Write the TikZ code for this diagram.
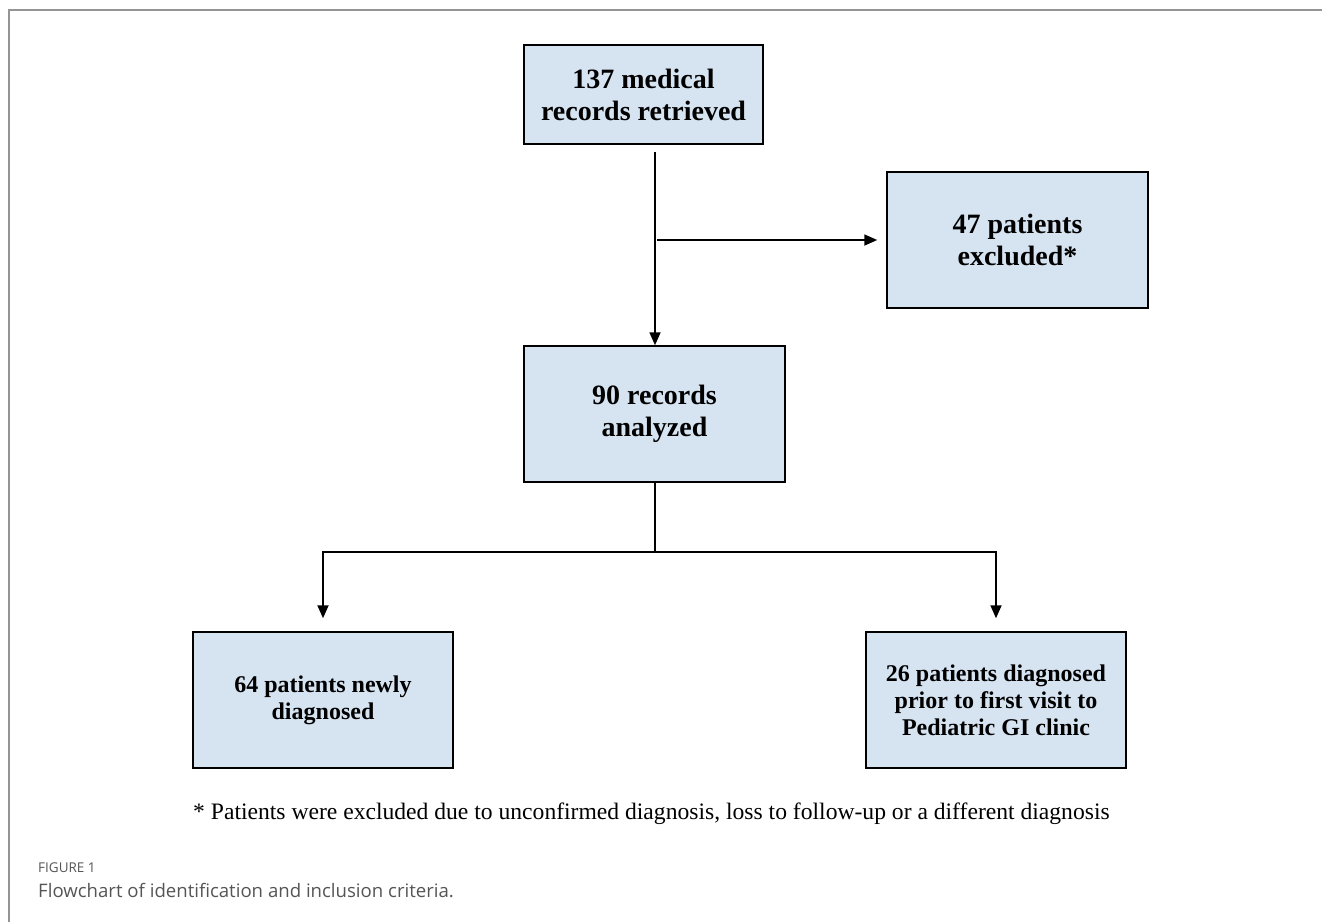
\documentclass[tikz,border=0pt]{standalone}
\usepackage{fontspec}
\setmainfont{Liberation Serif}
\newfontfamily\capfont{Open Sans}
\usetikzlibrary{arrows.meta}
\definecolor{boxblue}{HTML}{D6E3F1}
\definecolor{framegray}{HTML}{949494}
\definecolor{capgray}{HTML}{555555}
\begin{document}
\begin{tikzpicture}[x=1pt,y=-1pt,
  box/.style={draw=black, fill=boxblue, line width=1.5pt, inner sep=0pt, align=center,
    font=\bfseries\fontsize{28}{32}\selectfont},
  smallbox/.style={box, font=\bfseries\fontsize{24}{27}\selectfont},
  arr/.style={line width=1.8pt, -{Triangle[length=13pt,width=11pt]}},
  plain/.style={line width=1.8pt}]
\useasboundingbox (0,0) rectangle (1322,922);
\draw[framegray, line width=2pt] (9,922) -- (9,10) -- (1322,10);

\node[box, minimum width=239pt, minimum height=99pt] (A) at (643.5,94.5) {137 medical\\records retrieved};
\node[box, minimum width=261pt, minimum height=136pt] (B) at (1017.5,240) {47 patients\\excluded*};
\node[box, minimum width=261pt, minimum height=136pt] (C) at (654.5,414) {90 records\\analyzed};
\node[smallbox, minimum width=260pt, minimum height=136pt] (D) at (323,700) {64 patients newly\\diagnosed};
\node[smallbox, minimum width=260pt, minimum height=136pt] (E) at (996,700) {26 patients diagnosed\\prior to first visit to\\Pediatric GI clinic};

\coordinate (a1) at (655,152);
\draw[arr] (a1) -- (a1 |- C.north);
\coordinate (b1) at (657,240);
\draw[arr, shorten >=9pt] (b1) -- (b1 -| B.west);
\coordinate (j) at (655,552);
\draw[plain] (C.south -| j) -- (j);
\draw[arr, shorten >=13pt] (j) -| (D.north);
\draw[arr, shorten >=13pt] (j) -| (E.north);

\node[anchor=west, inner sep=0pt, font=\fontsize{23.6}{27}\selectfont] (fn) at (193,814)
  {* Patients were excluded due to unconfirmed diagnosis, loss to follow-up or a different diagnosis};

\node[anchor=west, inner sep=0pt, text=capgray, font=\capfont\fontsize{13.5}{16}\selectfont] (fig) at (38,868) {FIGURE 1};
\node[anchor=west, inner sep=0pt, text=capgray, font=\capfont\fontsize{18.6}{22}\selectfont] (cap) at (38,890) {Flowchart of identification and inclusion criteria.};
\end{tikzpicture}
\end{document}
